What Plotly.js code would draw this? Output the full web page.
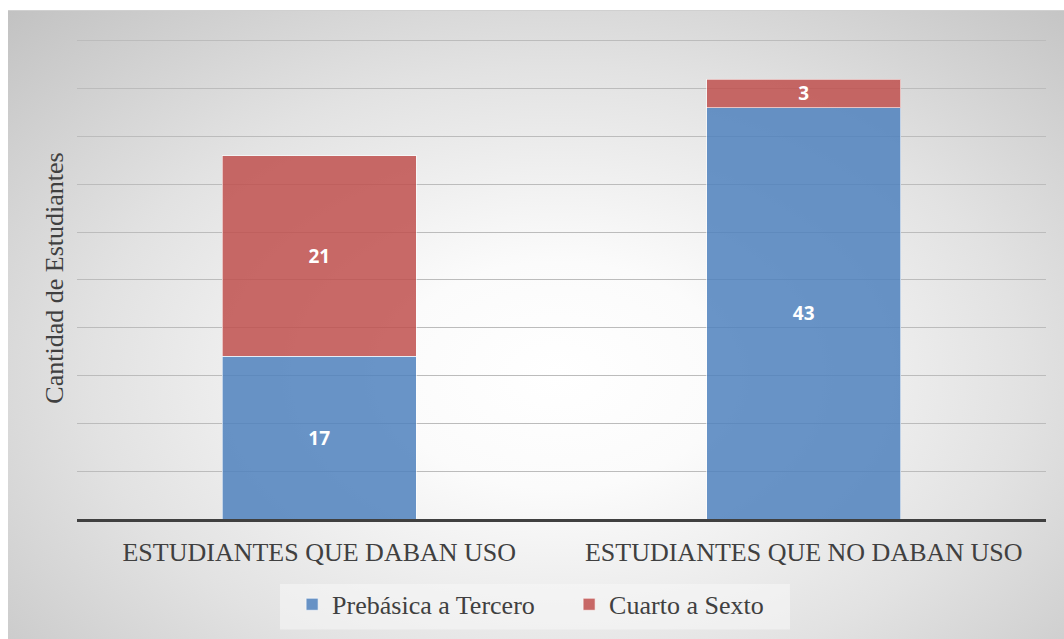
<!DOCTYPE html>
<html>
<head>
<meta charset="utf-8">
<script src="https://cdn.plot.ly/plotly-3.0.1.min.js"></script>
<style>
  html, body { margin: 0; padding: 0; background: #ffffff; width: 1064px; height: 639px; overflow: hidden; }
  #chart {
    position: absolute; left: 8px; top: 10px; width: 1056px; height: 629px;
    border-top: 1px solid #d0d0d0;
    box-sizing: border-box;
    background: radial-gradient(ellipse farthest-corner at 52% 58%, #ffffff 0%, #fbfbfb 22%, #e2e2e2 60%, #c2c2c2 100%);
  }
</style>
</head>
<body>
<div id="chart"></div>
<script>
const categories = ["ESTUDIANTES QUE DABAN USO", "ESTUDIANTES QUE NO DABAN USO"];
const seriesNames = ["Prebásica a Tercero", "Cuarto a Sexto"];
const prebasicaTercero = [17, 43];
const cuartoSexto = [21, 3];

const serif = "'Liberation Serif', 'Times New Roman', serif";
const labelFont = { family: "'Open Sans', 'Liberation Sans', sans-serif", size: 19, color: "#ffffff", weight: "bold" };

const traces = [
  {
    type: "bar", name: seriesNames[0], x: categories, y: prebasicaTercero,
    text: prebasicaTercero.map(String), textposition: "inside", insidetextanchor: "middle",
    textangle: 0, textfont: labelFont, constraintext: "none", hoverinfo: "none",
    marker: { color: "rgba(79,129,189,0.85)", line: { color: "rgba(255,255,255,0.6)", width: 1 } }
  },
  {
    type: "bar", name: seriesNames[1], x: categories, y: cuartoSexto,
    text: cuartoSexto.map(String), textposition: "inside", insidetextanchor: "middle",
    textangle: 0, textfont: labelFont, constraintext: "none", hoverinfo: "none",
    marker: { color: "rgba(192,80,77,0.85)", line: { color: "rgba(255,255,255,0.6)", width: 1 } }
  }
];

const layout = {
  width: 1056, height: 628,
  barmode: "stack", bargap: 0.6,
  paper_bgcolor: "rgba(0,0,0,0)", plot_bgcolor: "rgba(0,0,0,0)",
  margin: { l: 69, r: 18, t: 26, b: 119 },
  font: { family: serif, color: "#404040", size: 26 },
  xaxis: {
    showline: true, linecolor: "#404040", linewidth: 3,
    ticks: "", tickfont: { family: serif, size: 26, color: "#404040" },
    ticklabelstandoff: 8,
    showgrid: false, zeroline: false, fixedrange: true
  },
  yaxis: {
    range: [0, 50.4], tick0: 0, dtick: 5, showticklabels: false, ticks: "",
    showgrid: true, gridcolor: "#bcbcbc", gridwidth: 1, zeroline: false,
    automargin: true,
    title: { text: "Cantidad de Estudiantes", standoff: 4, font: { family: serif, size: 26, color: "#404040" } },
    fixedrange: true
  },
  shapes: [{
    type: "rect", xref: "paper", yref: "paper", layer: "below",
    x0: 0.2095, x1: 0.7358, y0: -0.229, y1: -0.1346,
    fillcolor: "rgba(248,248,248,0.55)", line: { width: 0 }
  }],
  showlegend: true,
  legend: {
    orientation: "h", x: 0.222, xanchor: "left", y: -0.126, yanchor: "top",
    bgcolor: "rgba(0,0,0,0)",
    font: { family: serif, size: 26, color: "#404040" },
    traceorder: "normal", itemwidth: 30,
    entrywidth: 232, entrywidthmode: "pixels"
  }
};

Plotly.newPlot("chart", traces, layout, { displayModeBar: false, staticPlot: true });
</script>
</body>
</html>
